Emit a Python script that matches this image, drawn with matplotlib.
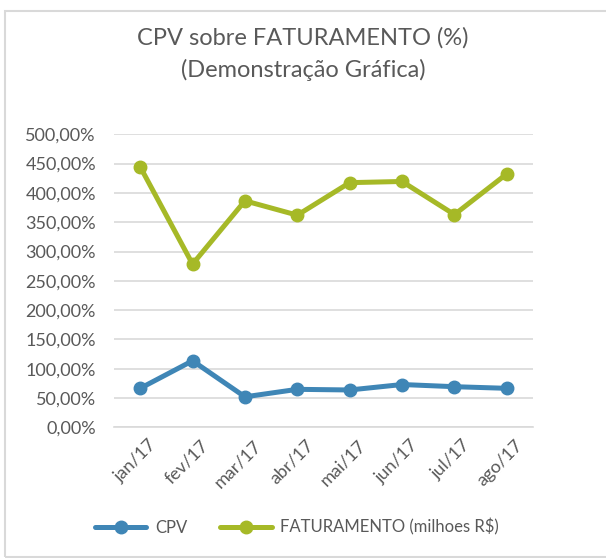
import matplotlib
matplotlib.use("Agg")
import matplotlib.pyplot as plt
from matplotlib.patches import Rectangle
from matplotlib.ticker import FuncFormatter, MultipleLocator
from matplotlib.transforms import ScaledTranslation

months = ["jan/17", "fev/17", "mar/17", "abr/17", "mai/17", "jun/17", "jul/17", "ago/17"]
cpv = [66.5, 113.5, 52.0, 64.8, 63.7, 73.0, 69.3, 66.5]
faturamento = [444.5, 278.5, 386.5, 362.0, 417.5, 419.5, 363.0, 432.5]

plt.rcParams['font.family'] = ['Lato', 'DejaVu Sans']
txt = '#595959'
blue = '#3F86B6'
green = '#A6B927'

fig = plt.figure(figsize=(6.06, 5.58), dpi=100)
fig.patches.append(Rectangle((5/606, 1 - 557/558), 610/606, (557-11)/558, transform=fig.transFigure,
                             fill=False, edgecolor='#D9D9D9', linewidth=1.5))

ax = fig.add_axes([114/606, 1 - 427.3/558, (533-114)/606, (427.3-134.3)/558])
x = list(range(len(months)))
ax.plot(x, cpv, color=blue, lw=3.6, marker='o', ms=9, label='CPV', solid_capstyle='round')
ax.plot(x, faturamento, color=green, lw=3.6, marker='o', ms=9, label='FATURAMENTO (milhoes R$)', solid_capstyle='round')

ax.set_xlim(-0.5, len(months) - 0.5)
ax.set_ylim(0, 500)
ax.yaxis.set_major_locator(MultipleLocator(50))
ax.yaxis.set_major_formatter(FuncFormatter(lambda v, p: f"{v:.2f}".replace('.', ',') + '%'))
ax.set_xticks(x)
ax.set_xticklabels(months, rotation=45, ha='right', rotation_mode='anchor')
ax.grid(axis='y', color='#D9D9D9', lw=1.2)
ax.set_axisbelow(True)
for s in ['top', 'right', 'left']:
    ax.spines[s].set_visible(False)
ax.spines['bottom'].set_color('#D9D9D9')
ax.spines['bottom'].set_linewidth(1.2)
ax.tick_params(axis='both', length=0, colors=txt, labelsize=13)
ax.tick_params(axis='y', pad=13)
ax.tick_params(axis='x', pad=7)
offset = ScaledTranslation(8/100, 0, fig.dpi_scale_trans)
for lab in ax.get_xticklabels():
    lab.set_transform(lab.get_transform() + offset)

fig.text(0.5, 1 - 38/558, "CPV sobre FATURAMENTO (%)", ha='center', va='center', fontsize=17, color=txt)
fig.text(0.5, 1 - 70/558, "(Demonstração Gráfica)", ha='center', va='center', fontsize=17, color=txt)

fig.legend(loc='center', bbox_to_anchor=(0.49, 1 - 527/558), ncol=2, frameon=False,
           fontsize=12, labelcolor=txt, handlelength=3.1, columnspacing=2.0, handletextpad=0.5)

fig.savefig("out.png", dpi=100)
